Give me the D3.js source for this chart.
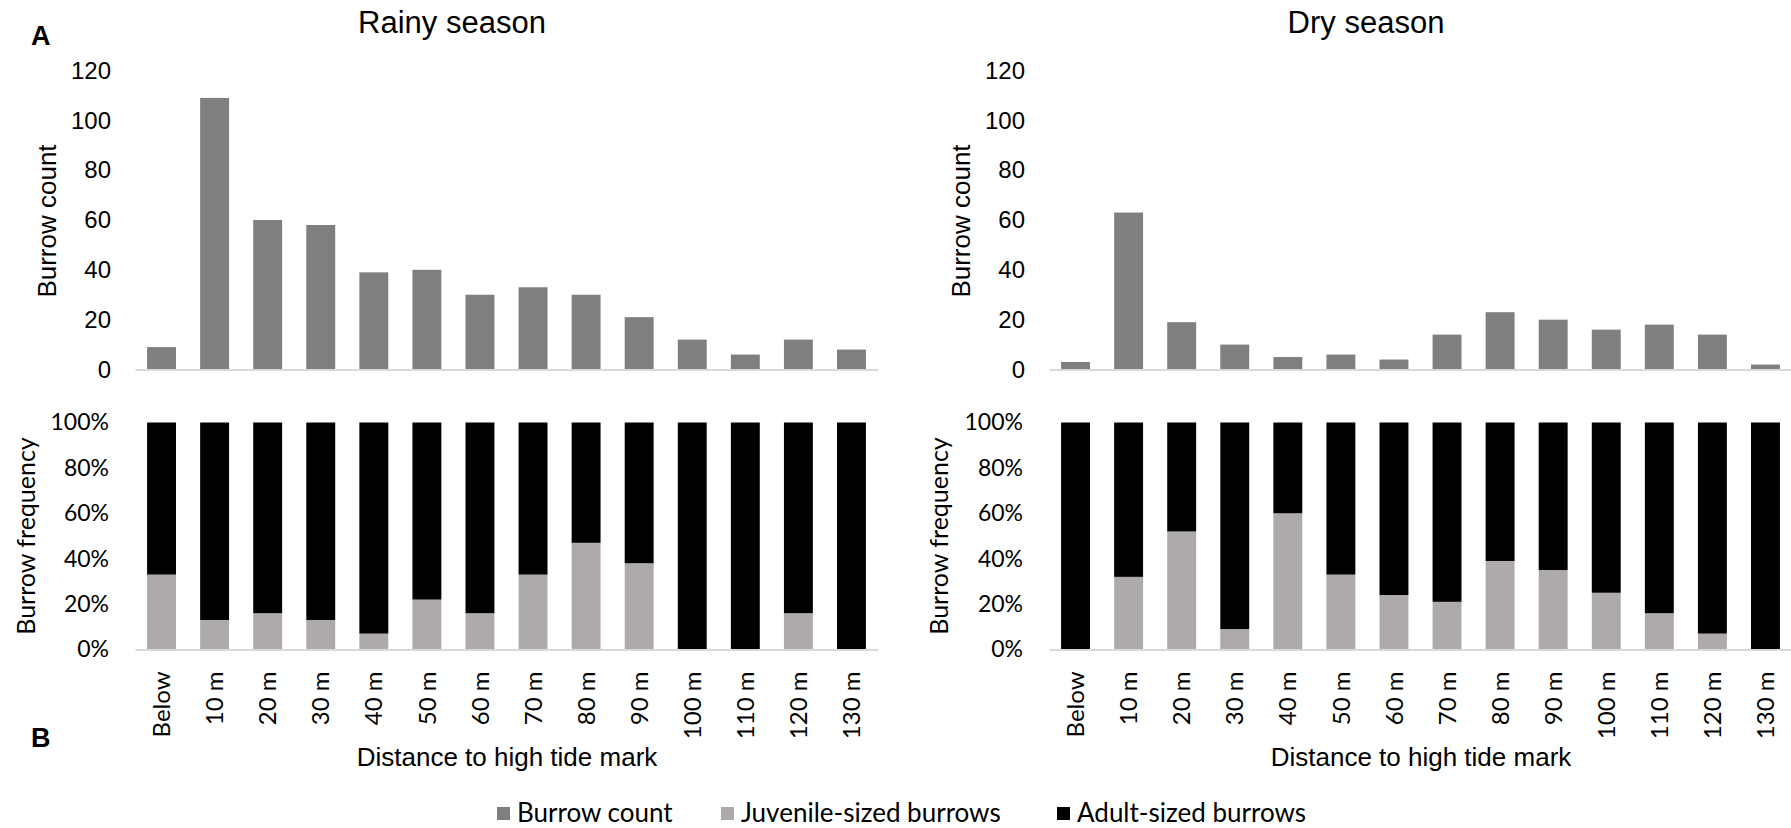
<!DOCTYPE html>
<html>
<head>
<meta charset="utf-8">
<script src="https://cdn.jsdelivr.net/npm/d3@7"></script>
<style>
  html, body { margin: 0; padding: 0; background: #fff; }
  svg { display: block; }
</style>
</head>
<body>
<svg id="chart" width="1791" height="828"></svg>
<script>
// Distance classes from the high tide mark
const categories = ["Below", "10 m", "20 m", "30 m", "40 m", "50 m", "60 m",
                    "70 m", "80 m", "90 m", "100 m", "110 m", "120 m", "130 m"];

// Total burrow counts per distance class
const rainyCount = [9, 109, 60, 58, 39, 40, 30, 33, 30, 21, 12, 6, 12, 8];
const dryCount   = [3, 63, 19, 10, 5, 6, 4, 14, 23, 20, 16, 18, 14, 2];

// Share of juvenile-sized burrows (%), the rest are adult-sized
const rainyJuvenilePct = [33, 13, 16, 13, 7, 22, 16, 33, 47, 38, 0, 0, 16, 0];
const dryJuvenilePct   = [0, 32, 52, 9, 60, 33, 24, 21, 39, 35, 25, 16, 7, 0];

const countTicks = [0, 20, 40, 60, 80, 100, 120];
const freqTicks  = [0, 0.2, 0.4, 0.6, 0.8, 1];

const seasonTitles = ["Rainy season", "Dry season"];
const legendLabels = ["Burrow count", "Juvenile-sized burrows", "Adult-sized burrows"];

const COLORS = { count: "#7f7f7f", juvenile: "#aeaaaa", adult: "#000000", axis: "#d9d9d9" };
const ARIAL = "'Liberation Sans', Arial, sans-serif";
const CAL = "Lato, 'Open Sans', sans-serif";

const svg = d3.select("#chart");

const panels = [
  { title: seasonTitles[0], counts: rainyCount, juv: rainyJuvenilePct,
    x0: 135, x1: 878, titleX: 452, countLabelX: 56, freqLabelX: 35 },
  { title: seasonTitles[1], counts: dryCount, juv: dryJuvenilePct,
    x0: 1049, x1: 1792, titleX: 1366, countLabelX: 970, freqLabelX: 948 }
];

const TOP = { y0: 369.5, y1: 70.5 };
const BOT = { y0: 649.5, y1: 422.5 };

panels.forEach(p => {
  const x = d3.scaleBand().domain(categories).range([p.x0, p.x1])
    .paddingInner(0.455).paddingOuter(0.2275);

  // ---------- burrow count panel ----------
  const yC = d3.scaleLinear().domain([0, 120]).range([TOP.y0, TOP.y1]);

  svg.append("g").selectAll("rect")
    .data(p.counts)
    .join("rect")
    .attr("x", (d, i) => x(categories[i]))
    .attr("width", x.bandwidth())
    .attr("y", d => yC(d))
    .attr("height", d => yC(0) - yC(d))
    .attr("fill", COLORS.count);

  const yAxC = svg.append("g")
    .attr("transform", `translate(${p.x0},0)`)
    .call(d3.axisLeft(yC).tickValues(countTicks).tickSize(0).tickPadding(24));
  yAxC.select(".domain").remove();
  yAxC.selectAll("text")
    .attr("font-family", ARIAL).attr("font-size", 24).attr("fill", "#000");

  const xAxC = svg.append("g")
    .attr("transform", `translate(0,${TOP.y0})`)
    .call(d3.axisBottom(x).tickSize(0).tickSizeOuter(0).tickFormat(""));
  xAxC.select(".domain").attr("stroke", COLORS.axis).attr("stroke-width", 2);

  svg.append("text")
    .attr("transform", `translate(${p.countLabelX},${(TOP.y0 + TOP.y1) / 2 + 1}) rotate(-90)`)
    .attr("text-anchor", "middle")
    .attr("font-family", ARIAL).attr("font-size", 26).attr("fill", "#000")
    .text("Burrow count");

  svg.append("text")
    .attr("x", p.titleX).attr("y", 33)
    .attr("text-anchor", "middle")
    .attr("font-family", ARIAL).attr("font-size", 31).attr("fill", "#000")
    .text(p.title);

  // ---------- burrow frequency panel ----------
  const yF = d3.scaleLinear().domain([0, 1]).range([BOT.y0, BOT.y1]);
  const rows = categories.map((c, i) => ({
    cat: c, juvenile: p.juv[i] / 100, adult: 1 - p.juv[i] / 100
  }));
  const stacked = d3.stack().keys(["juvenile", "adult"])(rows);

  svg.append("g").selectAll("g")
    .data(stacked)
    .join("g")
    .attr("fill", s => COLORS[s.key])
    .selectAll("rect")
    .data(s => s)
    .join("rect")
    .attr("x", d => x(d.data.cat))
    .attr("width", x.bandwidth())
    .attr("y", d => yF(d[1]))
    .attr("height", d => yF(d[0]) - yF(d[1]));

  const yAxF = svg.append("g")
    .attr("transform", `translate(${p.x0},0)`)
    .call(d3.axisLeft(yF).tickValues(freqTicks).tickSize(0).tickPadding(26)
      .tickFormat(d3.format(".0%")));
  yAxF.select(".domain").remove();
  yAxF.selectAll("text")
    .attr("font-family", CAL).attr("font-size", 23).attr("fill", "#000");

  const xAxF = svg.append("g")
    .attr("transform", `translate(0,${BOT.y0})`)
    .call(d3.axisBottom(x).tickSize(0).tickSizeOuter(0));
  xAxF.select(".domain").attr("stroke", COLORS.axis).attr("stroke-width", 2);
  xAxF.selectAll("text")
    .attr("transform", "rotate(-90)")
    .attr("x", -22).attr("y", 0).attr("dy", "0.36em")
    .attr("text-anchor", "end")
    .attr("font-family", CAL).attr("font-size", 24).attr("fill", "#000");

  svg.append("text")
    .attr("transform", `translate(${p.freqLabelX},${(BOT.y0 + BOT.y1) / 2}) rotate(-90)`)
    .attr("text-anchor", "middle")
    .attr("font-family", CAL).attr("font-size", 25).attr("fill", "#000")
    .text("Burrow frequency");

  svg.append("text")
    .attr("x", (p.titleX + 55)).attr("y", 766)
    .attr("text-anchor", "middle")
    .attr("font-family", ARIAL).attr("font-size", 26).attr("fill", "#000")
    .text("Distance to high tide mark");
});

// Panel letters
svg.append("text").attr("x", 31).attr("y", 45)
  .attr("font-family", ARIAL).attr("font-weight", "bold").attr("font-size", 27)
  .attr("fill", "#000").text("A");
svg.append("text").attr("x", 31).attr("y", 747)
  .attr("font-family", ARIAL).attr("font-weight", "bold").attr("font-size", 27)
  .attr("fill", "#000").text("B");

// Legend
const legendKeys = ["count", "juvenile", "adult"];
const legendX = [497, 721, 1057];
const legend = svg.append("g").selectAll("g")
  .data(legendKeys)
  .join("g")
  .attr("transform", (d, i) => `translate(${legendX[i]},0)`);
legend.append("rect")
  .attr("x", 0).attr("y", 807).attr("width", 13).attr("height", 13)
  .attr("fill", d => COLORS[d]);
legend.append("text")
  .attr("x", 20).attr("y", 822)
  .attr("font-family", CAL).attr("font-size", 26).attr("fill", "#000")
  .text((d, i) => legendLabels[i]);
</script>
</body>
</html>
